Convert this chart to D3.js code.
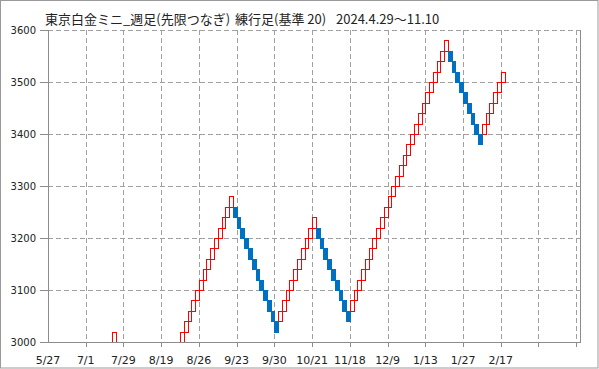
<!DOCTYPE html>
<html>
<head>
<meta charset="utf-8">
<script src="https://cdn.jsdelivr.net/npm/d3@7"></script>
<style>
  html, body { margin: 0; padding: 0; background: #fff; }
  svg { display: block; }
</style>
</head>
<body>
<svg id="chart" width="599" height="369"></svg>
<script>
// ---- data ----
const titleMain = "東京白金ミニ_週足(先限つなぎ)";
const titleType = "練行足(基準 20)";
const titlePeriod = "2024.4.29～11.10";

const xTickIndex = [0, 10, 20, 30, 40, 50, 60, 70, 80, 90, 100, 110, 120, 130, 140];
const xTickLabels = ["5/27", "7/1", "7/29", "8/19", "8/26", "9/23", "9/30", "10/21", "11/18", "12/9", "1/13", "1/27", "2/17", "", ""];
const yTicks = [3000, 3100, 3200, 3300, 3400, 3500, 3600];

// renko bricks (box size 20): slot index, open, close (only bricks at/above 3000 are visible)
const brickIndex = [
  17,
  35, 36, 37, 38, 39, 40, 41, 42, 43, 44, 45, 46, 47, 48,
  49, 50, 51, 52, 53, 54, 55, 56, 57, 58, 59, 60,
  61, 62, 63, 64, 65, 66, 67, 68, 69, 70,
  71, 72, 73, 74, 75, 76, 77, 78, 79,
  80, 81, 82, 83, 84, 85, 86, 87, 88, 89, 90, 91, 92, 93, 94, 95, 96, 97, 98, 99, 100, 101, 102, 103, 104, 105,
  106, 107, 108, 109, 110, 111, 112, 113, 114,
  115, 116, 117, 118, 119, 120
];
const brickOpen = [
  3000,
  3000, 3020, 3040, 3060, 3080, 3100, 3120, 3140, 3160, 3180, 3200, 3220, 3240, 3260,
  3260, 3240, 3220, 3200, 3180, 3160, 3140, 3120, 3100, 3080, 3060, 3040,
  3040, 3060, 3080, 3100, 3120, 3140, 3160, 3180, 3200, 3220,
  3220, 3200, 3180, 3160, 3140, 3120, 3100, 3080, 3060,
  3060, 3080, 3100, 3120, 3140, 3160, 3180, 3200, 3220, 3240, 3260, 3280, 3300, 3320, 3340, 3360, 3380, 3400, 3420, 3440, 3460, 3480, 3500, 3520, 3540, 3560,
  3560, 3540, 3520, 3500, 3480, 3460, 3440, 3420, 3400,
  3400, 3420, 3440, 3460, 3480, 3500
];
const brickClose = [
  3020,
  3020, 3040, 3060, 3080, 3100, 3120, 3140, 3160, 3180, 3200, 3220, 3240, 3260, 3280,
  3240, 3220, 3200, 3180, 3160, 3140, 3120, 3100, 3080, 3060, 3040, 3020,
  3060, 3080, 3100, 3120, 3140, 3160, 3180, 3200, 3220, 3240,
  3200, 3180, 3160, 3140, 3120, 3100, 3080, 3060, 3040,
  3080, 3100, 3120, 3140, 3160, 3180, 3200, 3220, 3240, 3260, 3280, 3300, 3320, 3340, 3360, 3380, 3400, 3420, 3440, 3460, 3480, 3500, 3520, 3540, 3560, 3580,
  3540, 3520, 3500, 3480, 3460, 3440, 3420, 3400, 3380,
  3420, 3440, 3460, 3480, 3500, 3520
];

(function () {
// ---- layout ----
const W = 599, H = 369;
const pL = 48, pR = 580, pT = 30, pB = 342;
const gridColor = "#a0a0a0";
const axisColor = "#8c8c8c";
const textColor = "#222";

const svg = d3.select("#chart");
const x = d3.scaleLinear().domain([0, 141]).range([pL, pR]);
const y = d3.scaleLinear().domain([3000, 3600]).range([pB, pT]);
const px = v => Math.round(v) + 0.5;

svg.append("rect").attr("x", 0).attr("y", 0).attr("width", W).attr("height", H).attr("fill", "#fff");
// outer frame
svg.append("rect").attr("x", 0.5).attr("y", 0.5).attr("width", W - 1.5).attr("height", H - 1.5)
  .attr("fill", "none").attr("stroke", "#9a9a9a");

// title
const t = svg.append("text").attr("y", 24).attr("fill", textColor)
  .style("font-family", "'Noto Sans CJK JP', sans-serif").style("font-size", "13px");
t.append("tspan").attr("x", 45).text(titleMain);
t.append("tspan").attr("x", 235).text(titleType);
t.append("tspan").attr("x", 336).text(titlePeriod);

// horizontal grid
const g = svg.append("g");
g.selectAll("line.hg").data(yTicks.filter(d => d > 3000)).join("line")
  .attr("x1", pL).attr("x2", pR)
  .attr("y1", d => px(y(d))).attr("y2", d => px(y(d)))
  .attr("stroke", gridColor).attr("stroke-dasharray", "5,3");
// vertical grid
g.selectAll("line.vg").data(xTickIndex.filter(d => d > 0)).join("line")
  .attr("x1", d => px(x(d))).attr("x2", d => px(x(d)))
  .attr("y1", pT).attr("y2", pB)
  .attr("stroke", gridColor).attr("stroke-dasharray", "5,3");

// bricks
const bricks = brickIndex.map((idx, i) => ({ idx, open: brickOpen[i], close: brickClose[i] }));
const bg = svg.append("g");
bg.selectAll("rect.up").data(bricks.filter(b => b.close > b.open)).join("rect")
  .attr("x", b => px(x(b.idx)))
  .attr("y", b => px(y(b.close)))
  .attr("width", b => Math.round(x(b.idx + 1)) - Math.round(x(b.idx)))
  .attr("height", b => Math.round(y(b.open)) - Math.round(y(b.close)))
  .attr("fill", "none").attr("stroke", "#ff0000").attr("stroke-width", 1);
bg.selectAll("rect.dn").data(bricks.filter(b => b.close < b.open)).join("rect")
  .attr("x", b => Math.round(x(b.idx)))
  .attr("y", b => Math.round(y(b.open)))
  .attr("width", b => Math.round(x(b.idx + 1)) - Math.round(x(b.idx)) + 1)
  .attr("height", b => Math.round(y(b.close)) - Math.round(y(b.open)) + 1)
  .attr("fill", "#0070c0");

// axes lines
svg.append("line").attr("x1", px(pL)).attr("x2", px(pL)).attr("y1", pT).attr("y2", pB + 1)
  .attr("stroke", axisColor);
svg.append("line").attr("x1", pL).attr("x2", pR + 1).attr("y1", px(pB)).attr("y2", px(pB))
  .attr("stroke", axisColor);
svg.append("line").attr("x1", px(pR)).attr("x2", px(pR)).attr("y1", pT).attr("y2", pB)
  .attr("stroke", axisColor);

// y ticks & labels
svg.selectAll("line.yt").data(yTicks).join("line")
  .attr("x1", pL - 8).attr("x2", pL)
  .attr("y1", d => px(y(d))).attr("y2", d => px(y(d)))
  .attr("stroke", axisColor);
svg.selectAll("text.yl").data(yTicks).join("text")
  .attr("x", 36).attr("y", d => y(d)).attr("dy", "0.36em")
  .attr("text-anchor", "end").attr("fill", textColor)
  .style("font-family", "'DejaVu Sans', sans-serif").style("font-size", "10px")
  .text(d => d);

// x ticks & labels
svg.selectAll("line.xt").data(xTickIndex.filter(d => d > 0)).join("line")
  .attr("x1", d => px(x(d))).attr("x2", d => px(x(d)))
  .attr("y1", pB).attr("y2", pB + 5)
  .attr("stroke", axisColor);
svg.selectAll("text.xl").data(xTickIndex).join("text")
  .attr("x", d => x(d)).attr("y", 364)
  .attr("text-anchor", "middle").attr("fill", textColor)
  .style("font-family", "'DejaVu Sans', sans-serif").style("font-size", "11px")
  .text((d, i) => xTickLabels[i]);
})();
</script>
</body>
</html>
